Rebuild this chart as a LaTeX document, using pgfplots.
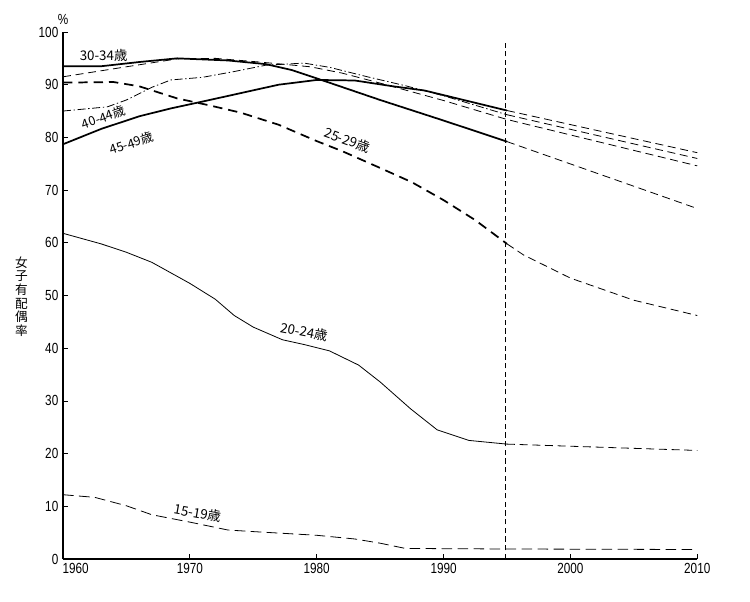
\documentclass[border=0pt]{standalone}
\usepackage{fontspec}
\setmainfont{Liberation Sans}[FakeStretch=0.8]
\newfontfamily\cjk{Noto Sans CJK JP}
\usepackage{pgfplots}
\pgfplotsset{compat=1.18}
\begin{document}
\begin{tikzpicture}
\useasboundingbox (-47.25pt,-31.5pt) rectangle (515.25pt,419.25pt);
\begin{axis}[
  at={(0,0)}, anchor=south west,
  scale only axis, width=475.7pt, height=395.25pt,
  xmin=1960, xmax=2010, ymin=0, ymax=100,
  axis x line*=bottom, axis y line*=left,
  axis line style={-, line width=0.9pt},
  xtick={1960,1970,...,2010}, ytick={0,10,...,100},
  xticklabels={\hspace*{19pt}1960,1970,1980,1990,2000,2010},
  tick align=inside, major tick length=4pt,
  tick style={black, line width=0.6pt},
  /pgf/number format/assume math mode=true,
  /pgf/number format/1000 sep={},
  ticklabel style={font=\fontsize{11}{13}\selectfont},
  clip=false,
]
% 30-34 (solid thick)
\addplot[black, line width=1.3pt] coordinates {
(1960,93.5) (1963,93.5) (1966,94.3) (1969,95.0) (1973,94.6) (1976,93.9) (1978,92.8) (1980,91.2) (1985,87.1) (1990,83.2) (1995,79.2)};
\addplot[black, line width=0.6pt, dash pattern=on 6pt off 3.5pt] coordinates {(1995,79.2) (2010,66.5)};
% 35-39 (thin dashed)
\addplot[black, line width=0.6pt, dash pattern=on 6pt off 3.5pt] coordinates {
(1960,91.5) (1965,93.4) (1969,94.9) (1972,95.0) (1975.5,94.3) (1979.5,93.4) (1982,92.2) (1985,90.3) (1990,87.0) (1995,83.4) (2010,74.6)};
% 40-44 (dash-dot)
\addplot[black, line width=0.6pt, dash pattern=on 6pt off 2pt on 1pt off 2pt] coordinates {
(1960,85.0) (1963.5,85.8) (1965,87.1) (1967,89.5) (1968.5,90.9) (1971,91.4) (1973.5,92.5) (1976,93.7) (1979,94.1) (1981,93.3) (1984,91.5) (1987,89.8) (1990,87.9) (1995,84.3)};
\addplot[black, line width=0.6pt, dash pattern=on 6pt off 3.5pt] coordinates {(1995,84.3) (2010,76.0)};
% 45-49 (solid thick)
\addplot[black, line width=1.3pt] coordinates {
(1960,78.7) (1963,81.6) (1966,84.0) (1968.5,85.5) (1971,86.8) (1974,88.4) (1977,90.0) (1980,90.9) (1983,90.8) (1986,89.7) (1988.5,88.9) (1995,85.1)};
\addplot[black, line width=0.6pt, dash pattern=on 6pt off 3.5pt] coordinates {(1995,85.1) (2010,77.1)};
% 25-29 (thick dashed)
\addplot[black, line width=1.3pt, dash pattern=on 7pt off 4.5pt] coordinates {
(1960,90.4) (1964,90.5) (1966,89.7) (1969,87.4) (1971.5,86.1) (1974,84.7) (1977,82.4) (1980,79.3) (1982,77.4) (1985,74.2) (1987.5,71.5) (1990,68.1) (1992.5,64.3) (1995,59.8)};
\addplot[black, line width=0.6pt, dash pattern=on 6pt off 3.5pt] coordinates {
(1995,59.8) (1996.3,57.7) (2000,53.3) (2005,49.1) (2010,46.2)};
% 20-24 (thin solid)
\addplot[black, line width=0.6pt] coordinates {
(1960,61.8) (1963,59.8) (1965,58.2) (1967,56.3) (1970,52.3) (1972,49.3) (1973.5,46.2) (1975,44.0) (1977.3,41.6) (1979,40.7) (1981,39.5) (1983.3,36.8) (1985,33.6) (1987.4,28.5) (1989.5,24.5) (1992,22.5) (1995,21.8)};
\addplot[black, line width=0.6pt, dash pattern=on 6pt off 3.5pt] coordinates {(1995,21.8) (2010,20.6)};
% 15-19 (long dashed)
\addplot[black, line width=0.6pt, dash pattern=on 8pt off 4pt] coordinates {
(1960,12.2) (1962.5,11.7) (1965,10.1) (1967,8.4) (1970,7.0) (1973,5.5) (1975,5.2) (1980,4.5) (1983,3.8) (1985,3.0) (1987,2.0) (1995,1.9) (2010,1.8)};
% vertical line at 1995
\addplot[black, line width=0.6pt, dash pattern=on 4pt off 2.5pt] coordinates {(1994.85,0) (1994.85,98)};
% labels
\node[font=\cjk\fontsize{10}{12}\selectfont] at (axis cs:1963.2,95.6) {30-34歳};
\node[font=\cjk\fontsize{9.5}{11}\selectfont, rotate=19, inner sep=0pt] at (axis cs:1963.2,83.8) {40-44歳};
\node[font=\cjk\fontsize{9.5}{11}\selectfont, rotate=18, inner sep=0pt] at (axis cs:1965.4,78.9) {45-49歳};
\node[font=\cjk\fontsize{10}{12}\selectfont, rotate=-20] at (axis cs:1982.4,79.5) {25-29歳};
\node[font=\cjk\fontsize{10}{12}\selectfont, rotate=-11] at (axis cs:1979.0,43.1) {20-24歳};
\node[font=\cjk\fontsize{10}{12}\selectfont, rotate=-10] at (axis cs:1970.6,8.7) {15-19歳};
\node[font=\fontsize{11}{13}\selectfont] at (rel axis cs:0,1.023) {\%};
\node[font=\cjk\fontsize{9.5}{10.25}\selectfont, align=center, inner sep=0pt] at (rel axis cs:-0.0654,0.498) {女\\子\\有\\配\\偶\\率};
\end{axis}
\end{tikzpicture}
\end{document}
